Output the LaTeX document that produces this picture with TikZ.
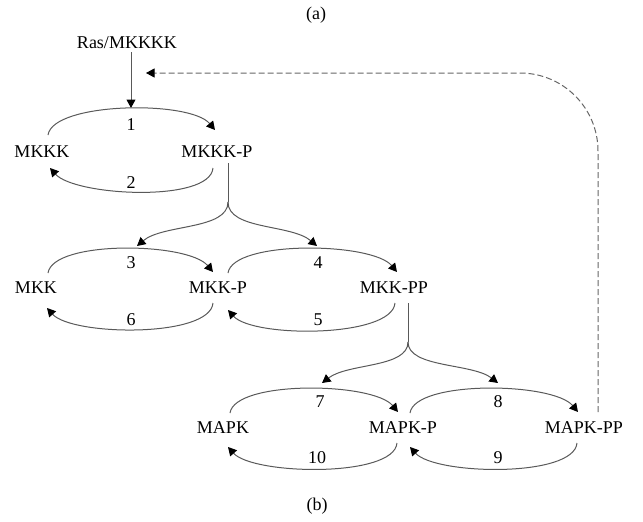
\documentclass[tikz,border=0pt]{standalone}
\usepackage{fontspec}
\setmainfont{Liberation Serif}
\usetikzlibrary{arrows.meta}
\begin{document}
\begin{tikzpicture}[x=1pt,y=-1pt,
  lbl/.style={inner sep=0pt, font=\fontsize{18}{20}\selectfont},
  tip/.style={-{Triangle[length=8.5pt,width=9pt,color=black]}},
  rxn/.style={draw=black!65, line width=1pt, tip},
  plain/.style={draw=black!65, line width=1pt},
  fbk/.style={draw=black!60, line width=1pt, dash pattern=on 6pt off 3pt, rounded corners=78pt, tip}]
\useasboundingbox (0,0) rectangle (643,522);

% titles
\node[lbl] (ta) at (316,15) {(a)};
\node[lbl] (tb) at (317,506) {(b)};

% species
\node[lbl] (ras)    at (127,43)  {Ras/MKKKK};
\node[lbl] (mkkk)   at (42,152)  {MKKK};
\node[lbl] (mkkkp)  at (217,152) {MKKK-P};
\node[lbl] (mkk)    at (36,288)  {MKK};
\node[lbl] (mkkp)   at (218,288) {MKK-P};
\node[lbl] (mkkpp)  at (394,288) {MKK-PP};
\node[lbl] (mapk)   at (223,428) {MAPK};
\node[lbl] (mapkp)  at (403,428) {MAPK-P};
\node[lbl] (mapkpp) at (584,428) {MAPK-PP};

% reaction numbers
\node[lbl] (n1)  at (131,125) {1};
\node[lbl] (n2)  at (131,183) {2};
\node[lbl] (n3)  at (131,263) {3};
\node[lbl] (n6)  at (131,320) {6};
\node[lbl] (n4)  at (318,263) {4};
\node[lbl] (n5)  at (318,320) {5};
\node[lbl] (n7)  at (320,402) {7};
\node[lbl] (n10) at (317,458) {10};
\node[lbl] (n8)  at (498,402) {8};
\node[lbl] (n9)  at (498,458) {9};

% free ends
\coordinate (t1) at (131,108);
\coordinate (b1) at (228,202);
\coordinate (t3) at (137,246);
\coordinate (t4) at (317,246);
\coordinate (b2) at (408,342);
\coordinate (t7) at (322,383);
\coordinate (t8) at (498,383);
\coordinate (fb) at (146,73);

% level 1
\draw[rxn] ([shift={(4,9)}]ras.center) -- (t1);
\draw[rxn] ([shift={(6,-17)}]mkkk.center) .. controls +(5,-33) and +(-25,-30) .. ([shift={(-2,-22)}]mkkkp.center);
\draw[rxn] ([shift={(-4,16)}]mkkkp.center) .. controls +(-3,35) and +(25,28) .. ([shift={(8,16)}]mkkk.center);

% split 1
\draw[plain] ([shift={(11,11)}]mkkkp.center) -- (b1);
\draw[rxn] (b1) .. controls +(0,28) and +(26,-22) .. (t3);
\draw[rxn] (b1) .. controls +(0,28) and +(-26,-22) .. (t4);

% level 2
\draw[rxn] ([shift={(12,-15)}]mkk.center) .. controls +(5,-33) and +(-25,-30) .. ([shift={(-5,-16)}]mkkp.center);
\draw[rxn] ([shift={(-5,15)}]mkkp.center) .. controls +(-3,35) and +(25,28) .. ([shift={(11,20)}]mkk.center);
\draw[rxn] ([shift={(10,-15)}]mkkp.center) .. controls +(5,-33) and +(-25,-30) .. ([shift={(3,-16)}]mkkpp.center);
\draw[rxn] ([shift={(1,15)}]mkkpp.center) .. controls +(-3,35) and +(25,28) .. ([shift={(10,22)}]mkkp.center);

% split 2
\draw[plain] ([shift={(14,15)}]mkkpp.center) -- (b2);
\draw[rxn] (b2) .. controls +(0,26) and +(26,-20) .. (t7);
\draw[rxn] (b2) .. controls +(0,26) and +(-26,-20) .. (t8);

% level 3
\draw[rxn] ([shift={(7,-15)}]mapk.center) .. controls +(5,-33) and +(-25,-30) .. ([shift={(-5,-16)}]mapkp.center);
\draw[rxn] ([shift={(-6,15)}]mapkp.center) .. controls +(-3,35) and +(25,28) .. ([shift={(5,19)}]mapk.center);
\draw[rxn] ([shift={(7,-15)}]mapkp.center) .. controls +(5,-33) and +(-25,-30) .. ([shift={(-6,-16)}]mapkpp.center);
\draw[rxn] ([shift={(-7,15)}]mapkpp.center) .. controls +(-3,35) and +(25,28) .. ([shift={(7,19)}]mapkp.center);

% feedback
\draw[fbk] ([shift={(14,-16)}]mapkpp.center) |- (fb);
\end{tikzpicture}
\end{document}
